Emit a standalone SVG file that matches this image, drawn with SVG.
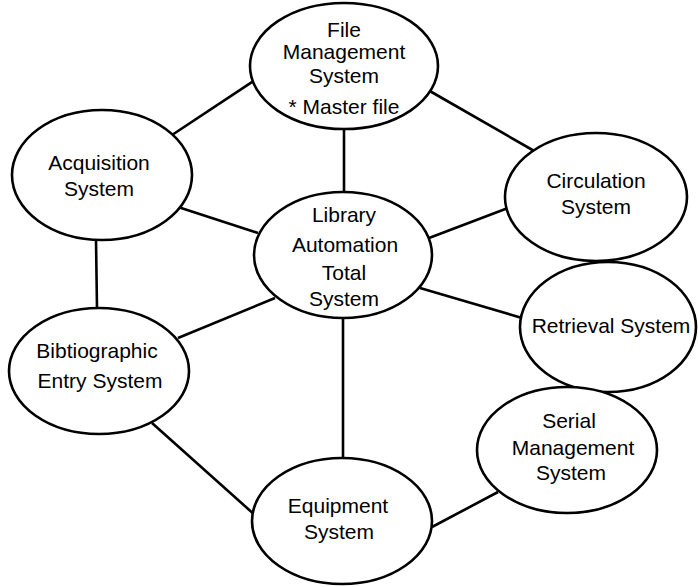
<svg xmlns="http://www.w3.org/2000/svg" width="698" height="587" viewBox="0 0 698 587">
<style>
.n ellipse{fill:#fff;stroke:#000;stroke-width:2.6}
.c line{stroke:#000;stroke-width:2.6}
text{font-family:"Liberation Sans",Arial,sans-serif;font-size:21px;fill:#000;text-anchor:middle}
</style>
<rect width="698" height="587" fill="#fff"/>
<g id="connectors" class="c">
<line x1="258" y1="78" x2="172" y2="135"/>
<line x1="344" y1="128" x2="344" y2="193"/>
<line x1="428" y1="90" x2="536" y2="152"/>
<line x1="178" y1="207" x2="258" y2="233"/>
<line x1="429" y1="238" x2="508" y2="208"/>
<line x1="420" y1="288" x2="522" y2="318"/>
<line x1="96" y1="240" x2="97" y2="308"/>
<line x1="275" y1="298" x2="178" y2="338"/>
<line x1="343" y1="318" x2="343" y2="459"/>
<line x1="152" y1="423" x2="256" y2="516"/>
<line x1="432" y1="527" x2="498" y2="492"/>
</g>
<g id="file-management" class="n">
<ellipse cx="344" cy="66" rx="94" ry="63"/>
<text x="344" y="37">File</text>
<text x="344" y="59">Management</text>
<text x="344" y="83">System</text>
<text x="344" y="114">* Master file</text>
</g>
<g id="acquisition" class="n">
<ellipse cx="102" cy="175" rx="90" ry="65"/>
<text x="99" y="170">Acquisition</text>
<text x="99" y="196">System</text>
</g>
<g id="library" class="n">
<ellipse cx="343" cy="255" rx="89" ry="63"/>
<text x="344" y="222">Library</text>
<text x="345" y="252">Automation</text>
<text x="344" y="280">Total</text>
<text x="344" y="306">System</text>
</g>
<g id="circulation" class="n">
<ellipse cx="596" cy="197" rx="91" ry="64"/>
<text x="596" y="188">Circulation</text>
<text x="596" y="214">System</text>
</g>
<g id="retrieval" class="n">
<ellipse cx="608" cy="327" rx="88" ry="65"/>
<text x="611" y="333">Retrieval System</text>
</g>
<g id="bibliographic" class="n">
<ellipse cx="99" cy="371" rx="90" ry="63"/>
<text x="97" y="358">Bibtiographic</text>
<text x="100" y="388">Entry System</text>
</g>
<g id="serial" class="n">
<ellipse cx="567" cy="450" rx="90" ry="63"/>
<text x="569" y="428">Serial</text>
<text x="573" y="455">Management</text>
<text x="571" y="480">System</text>
</g>
<g id="equipment" class="n">
<ellipse cx="342" cy="521" rx="90" ry="63"/>
<text x="338" y="513">Equipment</text>
<text x="339" y="539">System</text>
</g>
</svg>
